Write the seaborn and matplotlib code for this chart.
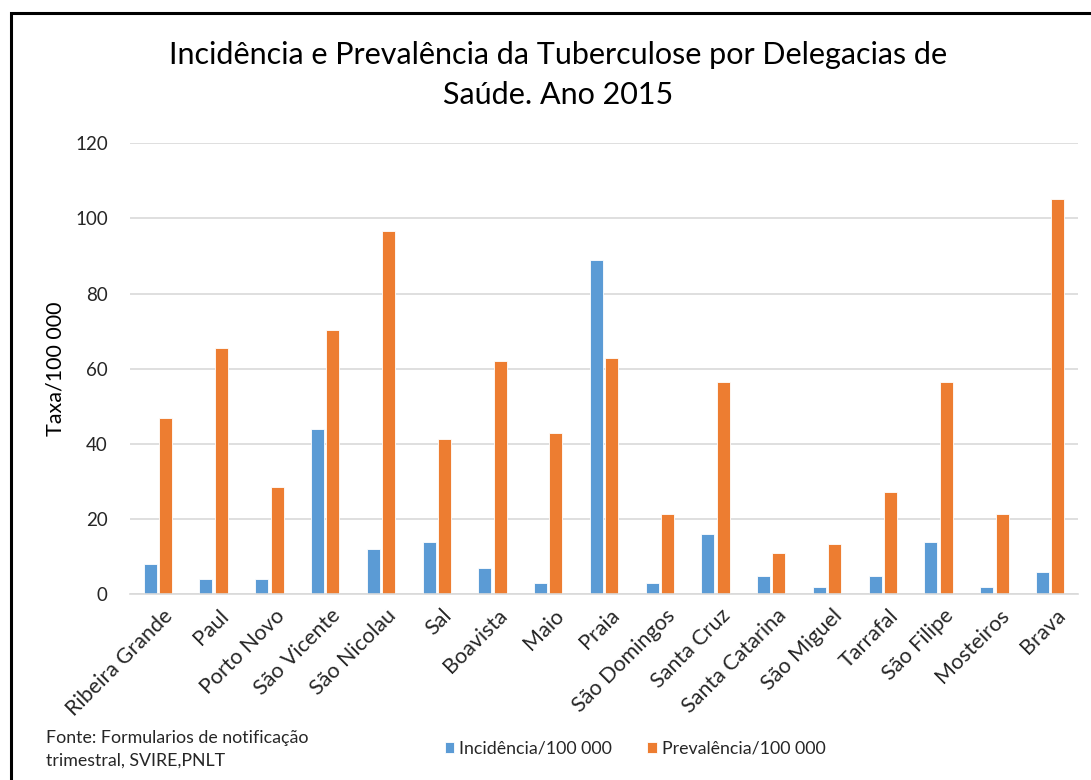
import matplotlib
matplotlib.use("Agg")
import matplotlib.pyplot as plt
import matplotlib.transforms as mtransforms
import seaborn as sns
import pandas as pd
from matplotlib.patches import Rectangle

categories = ["Ribeira Grande", "Paul", "Porto Novo", "São Vicente", "São Nicolau",
              "Sal", "Boavista", "Maio", "Praia", "São Domingos", "Santa Cruz",
              "Santa Catarina", "São Miguel", "Tarrafal", "São Filipe", "Mosteiros", "Brava"]
incidencia = [8, 4, 4, 44, 12, 14, 7, 3, 89, 3, 16, 5, 2, 5, 14, 2, 6]
prevalencia = [47, 65.5, 28.5, 70.3, 96.7, 41.2, 62.1, 42.8, 63.0, 21.4, 56.6, 11.0, 13.4, 27.2, 56.6, 21.4, 105.3]
series_names = ["Incidência/100 000", "Prevalência/100 000"]
yticks = [0, 20, 40, 60, 80, 100, 120]

df = pd.DataFrame({
    "Delegacia": categories * 2,
    "Valor": incidencia + prevalencia,
    "Serie": [series_names[0]] * len(categories) + [series_names[1]] * len(categories),
})

sns.set_theme(style="white")
plt.rcParams['font.family'] = ['Lato', 'DejaVu Sans']

fig = plt.figure(figsize=(10.91, 7.80), dpi=100)
ax = fig.add_axes([130/1091, (780-594.3)/780, (1078-130)/1091, (594.3-143.3)/780])

sns.barplot(data=df, x="Delegacia", y="Valor", hue="Serie", ax=ax,
            palette=["#5B9BD5", "#ED7D31"], saturation=1, width=0.55, gap=0.15,
            edgecolor="white", linewidth=0.6, legend=True)

ax.set_ylim(0, 120)
ax.set_xlim(-0.5, len(categories) - 0.5)
ax.set_yticks(yticks)
ax.set_yticklabels([str(v) for v in yticks], fontsize=13.5, color="#262626")
ax.yaxis.grid(True, color="#d9d9d9", linewidth=1.2)
ax.set_axisbelow(True)
for s in ["top", "right", "left"]:
    ax.spines[s].set_visible(False)
ax.spines["bottom"].set_color("#d9d9d9")
ax.spines["bottom"].set_linewidth(1.2)
ax.tick_params(axis="y", length=0, pad=16)
ax.set_xticks(range(len(categories)))
ax.set_xticklabels(categories, rotation=45, ha="right", rotation_mode="anchor",
                   fontsize=15.5, color="#262626")
ax.tick_params(axis="x", length=0, pad=8)
offset = mtransforms.ScaledTranslation(5/100, 0, fig.dpi_scale_trans)
for lbl in ax.get_xticklabels():
    lbl.set_transform(lbl.get_transform() + offset)
ax.set_xlabel("")
ax.set_ylabel("Taxa/100 000", fontsize=15.5, color="#000000", labelpad=7)

handles, labels = ax.get_legend_handles_labels()
ax.get_legend().remove()
fig.legend(handles, labels, loc="center", bbox_to_anchor=(635/1091, 1 - 749/780),
           ncol=2, frameon=False, handlelength=0.56, handleheight=0.56,
           columnspacing=2.0, handletextpad=0.25, borderpad=0,
           prop={"family": ["Lato", "DejaVu Sans"], "size": 12.8})

fig.text(558/1091, 1 - 55/780, "Incidência e Prevalência da Tuberculose por Delegacias de",
         ha="center", va="center", fontsize=22, color="#000000")
fig.text(558/1091, 1 - 95/780, "Saúde. Ano 2015",
         ha="center", va="center", fontsize=22, color="#000000")

fig.text(46/1091, 1 - 738/780, "Fonte: Formularios de notificação",
         ha="left", va="center", fontsize=12.8)
fig.text(46/1091, 1 - 761/780, "trimestral, SVIRE,PNLT",
         ha="left", va="center", fontsize=12.8)

fig.patches.append(Rectangle((11/1091, -0.1), 1.2, 1.1 - 13/780, transform=fig.transFigure,
                             fill=False, edgecolor="black", linewidth=2.2))

fig.savefig("out.png", dpi=100)
